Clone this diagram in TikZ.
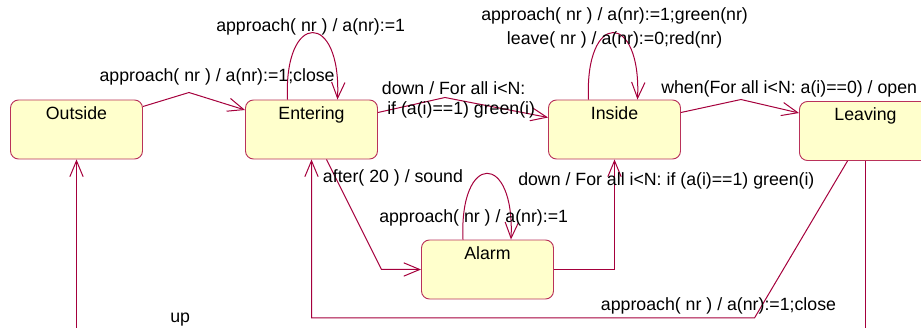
\documentclass[tikz,border=0pt]{standalone}
\usepackage{fontspec}
\setmainfont{Liberation Sans}
\usetikzlibrary{arrows.meta,calc}

\definecolor{stfill}{RGB}{255,255,204}
\definecolor{stline}{RGB}{185,50,90}
\definecolor{trline}{RGB}{165,0,60}

\begin{document}
\begin{tikzpicture}[x=0.75pt, y=-0.75pt, >={Straight Barb[length=12pt,width=10pt]},
    font=\fontsize{13.3}{16}\selectfont,
    statebox/.style={rectangle, rounded corners=6pt, draw=stline, fill=stfill, line width=0.7pt,
        minimum width=99pt, inner xsep=0pt, inner ysep=0pt, text height=14.25pt, text depth=30pt},
    trans/.style={->, draw=trline, line width=0.75pt},
    lbl/.style={anchor=base west, inner sep=0pt}]

    \useasboundingbox (0,0) rectangle (921,328);
    \clip (0,0) rectangle (921,328);

    % Nodes {Outside, Entering, Inside, Leaving, Alarm}
    \node [statebox] (out) at (76.5,129.5)  {Outside};
    \node [statebox] (ent) at (311.5,129.5) {Entering};
    \node [statebox] (ins) at (614.5,129.5) {Inside};
    \node [statebox] (lea) at (865.5,131)   {Leaving};
    \node [statebox] (alm) at (487.5,269.5) {Alarm};

    % Paths
    \draw [trans] ($(out.east)+(0,-23)$) -- ++(46,-14) -- ($(ent.west)+(0,-19.5)$);
    \draw [trans] ($(ent.north)+(-24,0)$) .. controls +(-4,-89) and +(4,-89) .. ($(ent.north)+(26,0)$);
    \draw [trans] ($(ent.east)+(0,-17)$) -- ++(67,-15) -- ($(ins.west)+(0,-12)$);
    \draw [trans] ($(ins.north)+(-26,0)$) .. controls +(-4,-89) and +(4,-89) .. ($(ins.north)+(23,0)$);
    \draw [trans] ($(ins.east)+(0,-17)$) -- ++(60,-13) -- ($(lea.west)+(0,-18)$);
    \draw [trans] ($(ent.south)+(15,0)$) -- ++(55,110) -- (alm.west);
    \draw [trans] ($(alm.north)+(-24.5,0)$) .. controls +(-4,-88) and +(4,-88) .. ($(alm.north)+(23.5,0)$);
    \draw [trans] (alm.east) -| (ins.south);
    \draw [trans] ($(lea.south)+(-18,0)$) -- ++(-93,157) -| (ent.south);
    \draw [trans] (lea.south) -- ++(0,200) -| (out.south);

    % Labels
    \node [lbl] (l-oe)  at (99.3,81.5)  {approach( nr ) / a(nr):=1;close};
    \node [lbl] (l-ee)  at (216,31.7)   {approach( nr ) / a(nr):=1};
    \node [lbl] (l-ii1) at (481,20.7)   {approach( nr ) / a(nr):=1;green(nr)};
    \node [lbl] (l-ii2) at (506.7,45)   {leave( nr ) / a(nr):=0;red(nr)};
    \node [lbl] (l-ei1) at (381.7,94.3) {down / For all i<N:};
    \node [lbl] (l-ei2) at (387,114.5)  {if (a(i)==1) green(i)};
    \node [lbl] (l-il)  at (661,93.3)   {when(For all i<N: a(i)==0) / open};
    \node [lbl] (l-ea)  at (322.7,182)  {after( 20 ) / sound};
    \node [lbl] (l-ai)  at (518,185.7)  {down / For all i<N: if (a(i)==1) green(i)};
    \node [lbl] (l-aa)  at (379,222.3)  {approach( nr ) / a(nr):=1};
    \node [lbl] (l-le)  at (600.7,310)  {approach( nr ) / a(nr):=1;close};
    \node [lbl] (l-lo)  at (170,322)    {up};

\end{tikzpicture}
\end{document}
